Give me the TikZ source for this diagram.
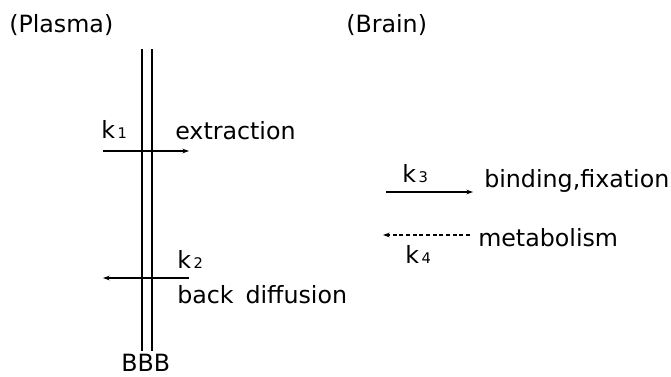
\documentclass[tikz,border=0pt]{standalone}
\usepackage{fontspec}
\setmainfont{DejaVu Sans}
\usetikzlibrary{arrows.meta}
\newcommand{\rate}[1]{k\kern2pt{\fontsize{11}{11}\selectfont #1}}
\begin{document}
	\begin{tikzpicture}[
			x=0.75pt, y=-0.75pt,
			every node/.style={inner sep=0pt, anchor=base west, font=\fontsize{17.8}{21}\selectfont},
			barrier/.style={line width=0.8pt},
			flow/.style={line width=0.8pt, -{Stealth[length=5pt,width=3.5pt]}},
			backflow/.style={flow, densely dashed}
		]
		\useasboundingbox (0,0) rectangle (671,376);
		\node (plasma) at (9,32) {(Plasma)};
		\node (brain) at (346,32) {(Brain)};
		\coordinate (wa1) at (142,49);
		\coordinate (wa2) at (142,351);
		\coordinate (wb1) at (152,49);
		\coordinate (wb2) at (152,351);
		\draw[barrier] (wa1) -- (wa2);
		\draw[barrier] (wb1) -- (wb2);
		\node (bbb) at (121,371) {BBB};
		\node (k1) at (101,138) {\rate{1}};
		\node (extraction) at (175,139) {extraction};
		\coordinate (k1s) at (103,151);
		\coordinate (k1e) at (189,151);
		\draw[flow] (k1s) -- (k1e);
		\node (k2) at (177,268) {\rate{2}};
		\node (backdiff) at (177,303) {back\hspace{0.5em}diffusion};
		\coordinate (k2s) at (189,278);
		\coordinate (k2e) at (103,278);
		\draw[flow] (k2s) -- (k2e);
		\node (k3) at (402,182) {\rate{3}};
		\node (binding) at (484,187) {binding,fixation};
		\coordinate (k3s) at (386,192);
		\coordinate (k3e) at (473,192);
		\draw[flow] (k3s) -- (k3e);
		\node (k4) at (405,263) {\rate{4}};
		\node (metabolism) at (478,246) {metabolism};
		\coordinate (k4s) at (470,235);
		\coordinate (k4e) at (383,235);
		\draw[backflow] (k4s) -- (k4e);
	\end{tikzpicture}
\end{document}
